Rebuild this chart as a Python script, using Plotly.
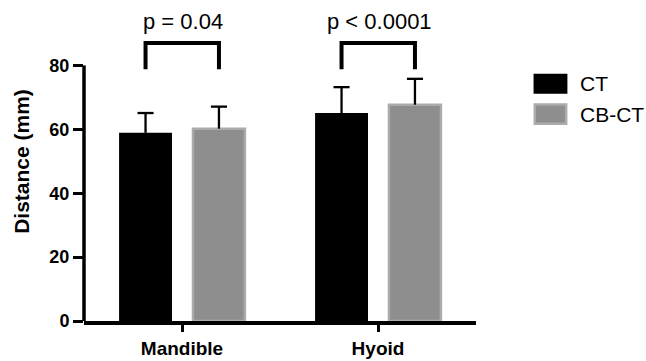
import plotly.graph_objects as go

categories = ["Mandible", "Hyoid"]
series_names = ["CT", "CB-CT"]
ct_values = [58.9, 65.1]
ct_errors = [6.2, 8.1]
cbct_values = [60.2, 67.7]
cbct_errors = [6.9, 8.1]
p_labels = ["p = 0.04", "p < 0.0001"]
bracket_top = [87.0, 87.0]
bracket_bottom = [78.8, 78.8]
y_ticks = [0, 20, 40, 60, 80]

FONT = "Arial, Liberation Sans, sans-serif"
pos = list(range(len(categories)))
ct_off, ct_w = -0.321, 0.27
cb_off, cb_w = 0.056, 0.265
CAP = 0.041  # half cap width in axis units
GREY = "#8e8e8e"
GREY_EDGE = "#ababab"

fig = go.Figure()
fig.add_trace(go.Bar(
    x=pos, y=ct_values, name=series_names[0], offset=ct_off, width=ct_w,
    marker=dict(color="black", line=dict(width=0)), showlegend=False))
fig.add_trace(go.Bar(
    x=pos, y=cbct_values, name=series_names[1], offset=cb_off, width=cb_w,
    marker=dict(color=GREY, line=dict(width=2.5, color=GREY_EDGE)), showlegend=False))


def upper_error_path(values, errors, off, w):
    xs, ys = [], []
    for p, v, e in zip(pos, values, errors):
        xc = p + off + w / 2
        xs += [xc, xc, None, xc - CAP, xc + CAP, None]
        ys += [v, v + e, None, v + e, v + e, None]
    return xs, ys


for vals, errs, off, w in [(ct_values, ct_errors, ct_off, ct_w),
                           (cbct_values, cbct_errors, cb_off, cb_w)]:
    ex, ey = upper_error_path(vals, errs, off, w)
    fig.add_trace(go.Scatter(x=ex, y=ey, mode="lines",
                             line=dict(color="black", width=2.3),
                             showlegend=False, hoverinfo="skip"))

# significance brackets between bar centres
for i, p in enumerate(pos):
    xa = p + ct_off + ct_w / 2
    xb = p + cb_off + cb_w / 2
    fig.add_trace(go.Scatter(
        x=[xa, xa, xb, xb],
        y=[bracket_bottom[i], bracket_top[i], bracket_top[i], bracket_bottom[i]],
        mode="lines", line=dict(color="black", width=4), showlegend=False,
        hoverinfo="skip"))
    fig.add_annotation(x=(xa + xb) / 2 + 0.005, y=93.6, text=p_labels[i], showarrow=False,
                       font=dict(family=FONT, size=22, color="black"),
                       xanchor="center", yanchor="middle")

# y axis line from 0 to 80
fig.add_shape(type="line", xref="paper", yref="y", x0=0, x1=0, y0=0, y1=y_ticks[-1],
              line=dict(color="black", width=3.5))

# custom legend
legend_items = [
    (series_names[0], "black", "black", 0.771, 0.716, 0.743),
    (series_names[1], GREY, GREY_EDGE, 0.679, 0.618, 0.648),
]
for name, fill, edge, y1, y0, yt in legend_items:
    fig.add_shape(type="rect", xref="paper", yref="paper", x0=1.150, x1=1.230,
                  y0=y0, y1=y1, fillcolor=fill, line=dict(color=edge, width=2.5))
    fig.add_annotation(xref="paper", yref="paper", x=1.260, y=yt, text=name,
                       showarrow=False, xanchor="left", yanchor="middle",
                       font=dict(family=FONT, size=21, color="black"))

fig.update_layout(
    width=646, height=361,
    margin=dict(l=84, r=170, t=2, b=32),
    plot_bgcolor="white", paper_bgcolor="white",
    barmode="overlay",
    font=dict(family=FONT, color="black"),
    xaxis=dict(range=[-0.5, 1.5], tickvals=pos, ticktext=categories,
               showline=True, linecolor="black", linewidth=3.5,
               ticks="outside", ticklen=7, tickwidth=3, tickcolor="black",
               showgrid=False, zeroline=False,
               tickfont=dict(family=FONT, size=19, color="black", weight="bold")),
    yaxis=dict(range=[0, 99.85], tickvals=y_ticks,
               showline=False, ticks="outside", ticklen=10, tickwidth=3,
               tickcolor="black", showgrid=False, zeroline=False,
               tickfont=dict(family=FONT, size=18, color="black", weight="bold"),
               title=dict(text="Distance (mm)", standoff=14,
                          font=dict(family=FONT, size=21, color="black", weight="bold"))),
)

fig.write_html("out.html")
